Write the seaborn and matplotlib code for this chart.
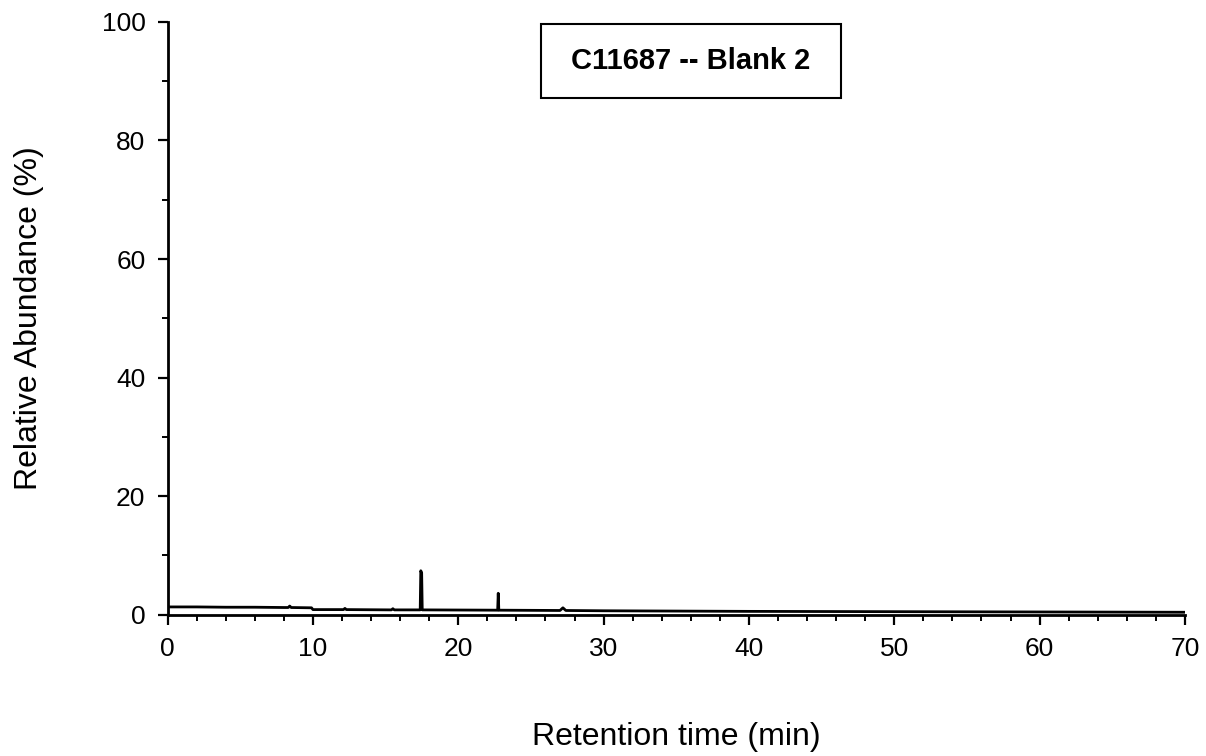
import matplotlib
matplotlib.use("Agg")
import matplotlib.pyplot as plt
import seaborn as sns
import pandas as pd
from matplotlib.patches import Rectangle
from matplotlib.ticker import MultipleLocator

# Data
retention_time = [0.0, 2.0, 4.0, 6.0, 8.0, 8.3, 8.4, 8.5, 9.9, 10.0, 12.1, 12.2, 12.3,
                  15.4, 15.5, 15.6, 17.38, 17.42, 17.48, 17.52, 22.71, 22.75, 22.79,
                  27.0, 27.2, 27.4, 30.0, 40.0, 50.0, 60.0, 70.0]
abundance = [1.3, 1.3, 1.25, 1.25, 1.2, 1.2, 1.45, 1.2, 1.15, 0.85, 0.85, 1.05, 0.85,
             0.8, 1.0, 0.8, 0.8, 7.4, 7.0, 0.8, 0.75, 3.6, 0.75,
             0.7, 1.15, 0.7, 0.65, 0.55, 0.5, 0.45, 0.4]

title_text = "C11687 -- Blank 2"
x_label = "Retention time (min)"
y_label = "Relative Abundance (%)"

df = pd.DataFrame({"t": retention_time, "a": abundance})

sns.set_style("ticks")
plt.rcParams["font.family"] = ["Liberation Sans", "DejaVu Sans"]

fig = plt.figure(figsize=(12.06, 7.56), dpi=100)
ax = fig.add_axes([0.139, 0.187, 0.8435, 0.784])

sns.lineplot(data=df, x="t", y="a", color="black", linewidth=2.0, ax=ax)

ax.set_xlim(0, 70)
ax.set_ylim(0, 100)
ax.xaxis.set_major_locator(MultipleLocator(10))
ax.xaxis.set_minor_locator(MultipleLocator(2))
ax.yaxis.set_major_locator(MultipleLocator(20))
ax.yaxis.set_minor_locator(MultipleLocator(10))

for s in ["top", "right"]:
    ax.spines[s].set_visible(False)
for s in ["left", "bottom"]:
    ax.spines[s].set_linewidth(2.0)
    ax.spines[s].set_color("black")

ax.tick_params(axis="both", which="major", length=7, width=1.6, labelsize=19,
               colors="black", labelcolor="black", pad=9)
ax.tick_params(axis="both", which="minor", length=4, width=1.4, colors="black")

ax.set_xlabel(x_label, fontsize=23, color="black")
ax.set_ylabel(y_label, fontsize=23, color="black")
ax.xaxis.set_label_coords(0.5, -0.181)
ax.yaxis.set_label_coords(-0.122, 0.5)

rect = Rectangle((0.367, 0.872), 0.295, 0.125, transform=ax.transAxes,
                 fill=True, facecolor="white", edgecolor="black", linewidth=1.5,
                 clip_on=False, zorder=5)
ax.add_patch(rect)
ax.text(0.5145, 0.934, title_text, transform=ax.transAxes, ha="center", va="center",
        fontsize=21, fontweight="bold", color="black", zorder=6)

fig.savefig("out.png", dpi=100)
